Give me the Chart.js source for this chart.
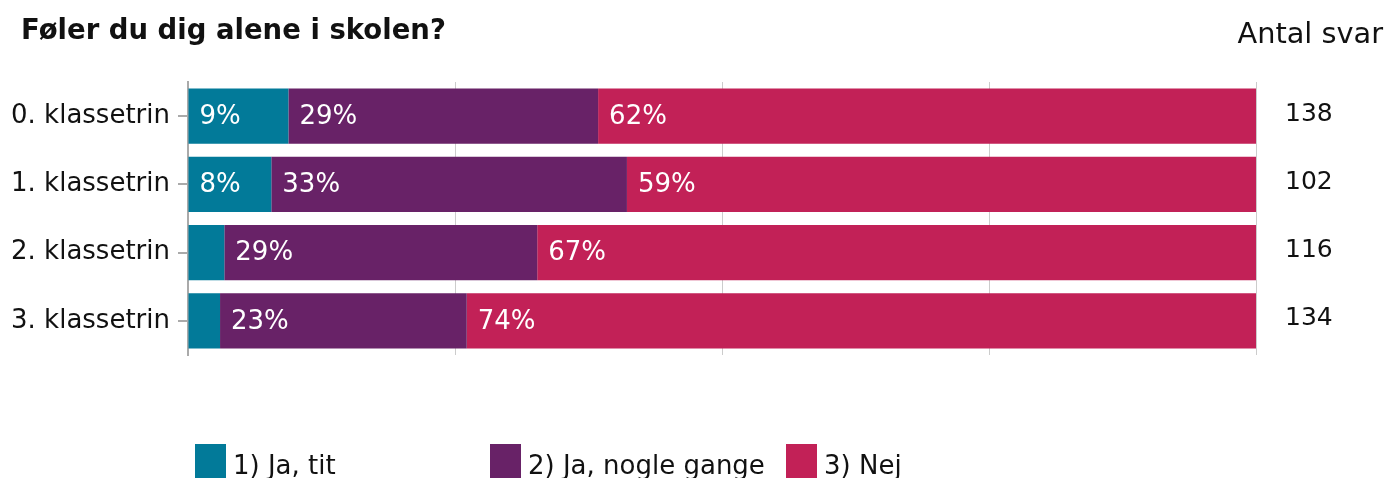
<!DOCTYPE html>
<html>
<head>
<meta charset="utf-8">
<script src="https://cdn.jsdelivr.net/npm/chart.js@4.4.0/dist/chart.umd.min.js"></script>
<style>
  html, body { margin: 0; padding: 0; background: #fff; }
  #wrap { position: relative; width: 1389px; height: 478px; }
  canvas { display: block; }
</style>
</head>
<body>
<div id="wrap"><canvas id="c" width="1389" height="478"></canvas></div>
<script>
const chartTitle = "Føler du dig alene i skolen?";
const countTitle = "Antal svar";
const categories = ["0. klassetrin", "1. klassetrin", "2. klassetrin", "3. klassetrin"];
const seriesNames = ["1) Ja, tit", "2) Ja, nogle gange", "3) Nej"];
const jaTit = [9.4, 7.8, 3.4, 3.0];
const jaNogleGange = [29.0, 33.3, 29.3, 23.1];
const nej = [61.6, 58.9, 67.3, 73.9];
const antalSvar = [138, 102, 116, 134];
const xTicks = [0, 25, 50, 75, 100];

const colors = ["#027a99", "#682267", "#c22157"];
const FONT = "'DejaVu Sans', Verdana, sans-serif";

const extras = {
  id: 'extras',
  afterDatasetsDraw(chart) {
    const ctx = chart.ctx;
    ctx.save();
    // in-bar labels
    ctx.font = "26px " + FONT;
    ctx.fillStyle = "#ffffff";
    ctx.textBaseline = "middle";
    ctx.textAlign = "left";
    chart.data.datasets.forEach((ds, di) => {
      const meta = chart.getDatasetMeta(di);
      meta.data.forEach((bar, i) => {
        const v = ds.data[i];
        if (v < 5) return;
        const p = bar.getProps(['x', 'y', 'base'], true);
        ctx.fillText(Math.round(v) + "%", Math.min(p.base, p.x) + 11, p.y + 1);
      });
    });
    // counts
    ctx.fillStyle = "#111";
    ctx.font = "25px " + FONT;
    const yScale = chart.scales.y;
    antalSvar.forEach((n, i) => {
      ctx.fillText(String(n), 1285, yScale.getPixelForValue(i) - 2);
    });
    ctx.restore();
  },
  afterDraw(chart) {
    const ctx = chart.ctx;
    ctx.save();
    ctx.textBaseline = "alphabetic";
    ctx.fillStyle = "#111";
    ctx.font = "bold 27.5px " + FONT;
    ctx.textAlign = "left";
    ctx.fillText(chartTitle, 21, 39);
    ctx.font = "28.8px " + FONT;
    ctx.textAlign = "right";
    ctx.fillText(countTitle, 1383, 43);
    // legend
    const legendX = [195, 490, 786];
    ctx.textAlign = "left";
    ctx.font = "26px " + FONT;
    seriesNames.forEach((name, i) => {
      ctx.fillStyle = colors[i];
      ctx.fillRect(legendX[i], 444, 31, 34);
      ctx.fillStyle = "#111";
      ctx.fillText(name, legendX[i] + 38, 474);
    });
    ctx.restore();
  }
};

new Chart(document.getElementById('c'), {
  type: 'bar',
  data: {
    labels: categories,
    datasets: [
      { label: seriesNames[0], data: jaTit, backgroundColor: colors[0] },
      { label: seriesNames[1], data: jaNogleGange, backgroundColor: colors[1] },
      { label: seriesNames[2], data: nej, backgroundColor: colors[2] }
    ]
  },
  options: {
    indexAxis: 'y',
    responsive: false,
    animation: false,
    devicePixelRatio: 1,
    layout: { padding: { top: 82, bottom: 123, right: 133, left: 0 } },
    datasets: { bar: { categoryPercentage: 1, barPercentage: 0.81, borderWidth: 0 } },
    plugins: { legend: { display: false }, tooltip: { enabled: false }, title: { display: false } },
    scales: {
      x: {
        stacked: true,
        min: 0, max: 100,
        afterBuildTicks(scale) { scale.ticks = xTicks.map(v => ({ value: v })); },
        afterFit(scale) { scale.height = 0; },
        ticks: { display: false },
        grid: { color: "#cccccc", lineWidth: 1, drawTicks: false },
        border: { display: false }
      },
      y: {
        stacked: true,
        afterFit(scale) { scale.width = 188; },
        ticks: { color: "#111", font: { family: FONT, size: 26 }, padding: 8 },
        grid: { offset: false, drawOnChartArea: false, drawTicks: true, tickLength: 10, color: "#aaaaaa", lineWidth: 2 },
        border: { display: true, color: "#aaaaaa", width: 2 }
      }
    }
  },
  plugins: [extras]
});
</script>
</body>
</html>
